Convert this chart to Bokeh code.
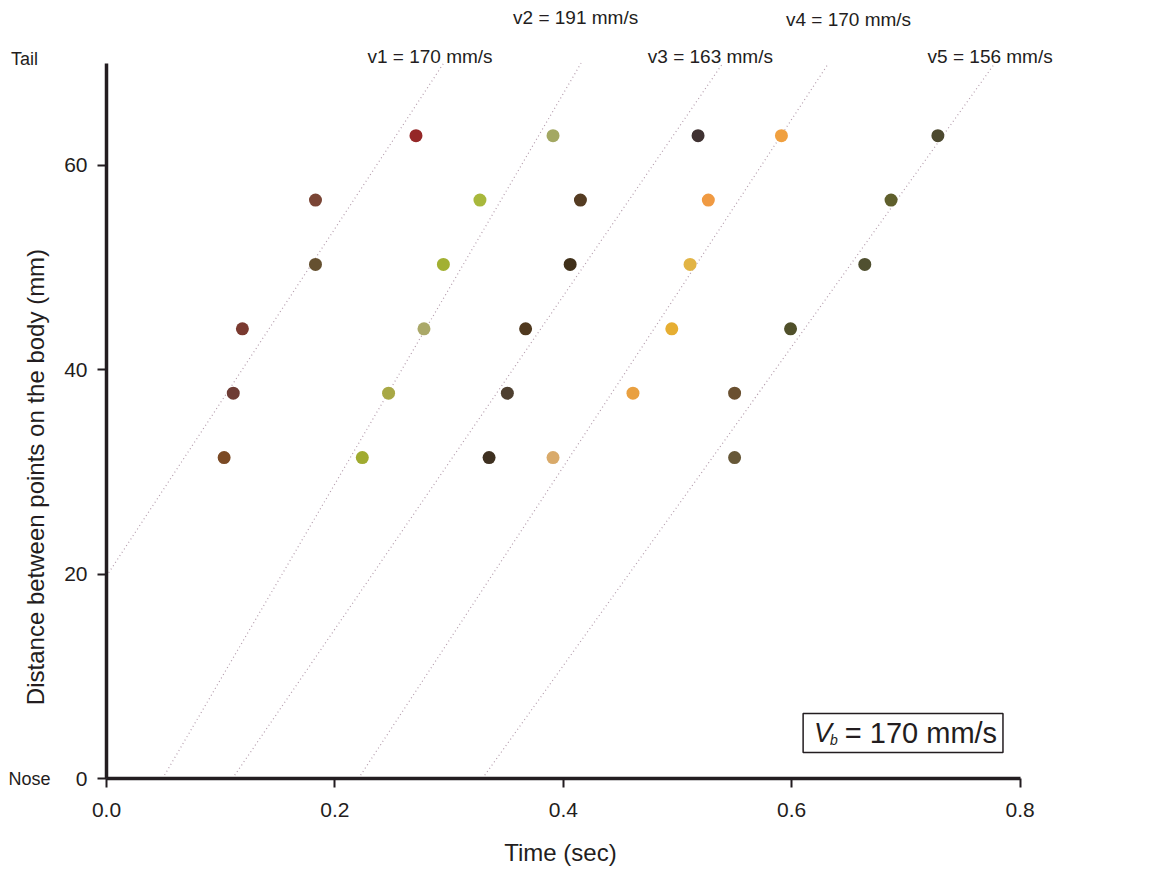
import math
from bokeh.plotting import figure
from bokeh.models import Label, BoxAnnotation, FixedTicker, Range1d, PrintfTickFormatter, ColumnDataSource
from bokeh.embed import file_html
from bokeh.resources import INLINE

# ---- data ----
levels = [31.4, 37.7, 44.0, 50.3, 56.6, 62.9]          # mm, points on the body

t_wave1 = [0.103, 0.111, 0.119, 0.183, 0.183, 0.271]   # s
t_wave2 = [0.224, 0.247, 0.278, 0.295, 0.327, 0.391]
t_wave3 = [0.335, 0.351, 0.367, 0.406, 0.415, 0.518]
t_wave4 = [0.391, 0.461, 0.495, 0.511, 0.527, 0.591]
t_wave5 = [0.550, 0.550, 0.599, 0.664, 0.687, 0.728]

col_wave1 = ["#7b4a25", "#6e3c35", "#7a3a30", "#655030", "#7a4535", "#952828"]
col_wave2 = ["#a0ab30", "#a8a845", "#aaa868", "#a2b032", "#a8b83c", "#a3a862"]
col_wave3 = ["#3e3020", "#4e4030", "#50391f", "#40301a", "#553c22", "#403232"]
col_wave4 = ["#d9aa6a", "#e9a040", "#e6ae32", "#e2b445", "#f09a42", "#f0a040"]
col_wave5 = ["#675838", "#6a5030", "#50502a", "#505030", "#5f5f2c", "#4d4a30"]

line_names = ["v1", "v2", "v3", "v4", "v5"]
line_speeds = [170, 191, 163, 170, 156]                 # mm/s
line_t0 = [-0.1165, 0.0491, 0.1103, 0.2206, 0.3292]      # s, time at nose (0 mm)
body_top = 70.0                                          # mm (tail)
body_speed_text = "= 170 mm/s"

x_ticks = [0.0, 0.2, 0.4, 0.6, 0.8]
y_ticks = [0, 20, 40, 60]

# label positions (left edge of speed labels)
lab_x = [0.2285, 0.356, 0.474, 0.595, 0.719]
lab_y = [70.6, 74.5, 70.6, 74.3, 70.6]

INK = "#231d20"
FONT = "Liberation Sans"

PX_X = 1142.0   # px per second
PX_Y = 10.22    # px per mm

p = figure(width=1153, height=870, output_backend="svg", toolbar_location=None,
           x_range=Range1d(-106 / PX_X, 1047 / PX_X),
           y_range=Range1d(-92 / PX_Y, 778 / PX_Y),
           min_border_left=0, min_border_right=0, min_border_top=0, min_border_bottom=0,
           background_fill_color="white", border_fill_color="white")
p.outline_line_color = None
p.grid.visible = False

# dotted wave lines
x0s, y0s, x1s, y1s = [], [], [], []
for v, t0 in zip(line_speeds, line_t0):
    ts = max(t0, 0.0)
    x0s.append(ts)
    y0s.append(v * (ts - t0))
    x1s.append(t0 + body_top / v)
    y1s.append(body_top)
p.segment(x0=x0s, y0=y0s, x1=x1s, y1=y1s, line_color="#b49cac", line_width=1.2, line_dash="1 3")

# dots
for ts, cs in [(t_wave1, col_wave1), (t_wave2, col_wave2), (t_wave3, col_wave3),
               (t_wave4, col_wave4), (t_wave5, col_wave5)]:
    src = ColumnDataSource(dict(x=ts, y=levels, c=cs))
    p.scatter("x", "y", source=src, size=13, fill_color="c", line_color=None)

# speed labels
for name, v, lx, ly in zip(line_names, line_speeds, lab_x, lab_y):
    p.add_layout(Label(x=lx, y=ly, text=f"{name} = {v} mm/s", text_font=FONT,
                       text_font_size="19px", text_color=INK,
                       text_align="left", text_baseline="middle"))

# Tail / Nose
p.add_layout(Label(x=-0.0718, y=70.4, text="Tail", text_font=FONT, text_font_size="18px",
                   text_color=INK, text_align="center", text_baseline="middle"))
p.add_layout(Label(x=-0.0674, y=0.0, text="Nose", text_font=FONT, text_font_size="18px",
                   text_color=INK, text_align="center", text_baseline="middle"))

# axis titles
p.add_layout(Label(x=-0.0625, y=29.5, text="Distance between points on the body (mm)",
                   angle=math.pi / 2, text_font=FONT, text_font_size="24px",
                   text_color=INK, text_align="center", text_baseline="middle"))
p.add_layout(Label(x=0.3975, y=-7.2, text="Time (sec)", text_font=FONT, text_font_size="24px",
                   text_color=INK, text_align="center", text_baseline="middle"))

# Vb box
p.add_layout(BoxAnnotation(left=0.610, right=0.785, bottom=2.55, top=6.36,
                           fill_color="white", fill_alpha=1.0, line_color=INK,
                           line_alpha=1.0, line_width=1.5))
p.add_layout(Label(x=0.6195, y=4.45, text="V", text_font=FONT, text_font_size="27px",
                   text_font_style="italic", text_color=INK, text_align="left", text_baseline="middle"))
p.add_layout(Label(x=0.6335, y=3.75, text="b", text_font=FONT, text_font_size="14px",
                   text_font_style="italic", text_color=INK, text_align="left", text_baseline="middle"))
p.add_layout(Label(x=0.6465, y=4.45, text=body_speed_text, text_font=FONT, text_font_size="29px",
                   text_color=INK, text_align="left", text_baseline="middle"))

# axes
for ax in (p.xaxis[0], p.yaxis[0]):
    ax.axis_line_width = 3.5
    ax.axis_line_color = INK
    ax.major_tick_line_color = INK
    ax.major_tick_line_width = 2
    ax.major_tick_in = 0
    ax.major_tick_out = 9
    ax.minor_tick_line_color = None
    ax.major_label_text_font = FONT
    ax.major_label_text_font_size = "21px"
    ax.major_label_text_color = INK

p.xaxis.ticker = FixedTicker(ticks=x_ticks)
p.xaxis.formatter = PrintfTickFormatter(format="%.1f")
p.xaxis.bounds = (0, 0.8)
p.xaxis.fixed_location = 0
p.xaxis.major_label_standoff = 15

p.yaxis.ticker = FixedTicker(ticks=y_ticks)
p.yaxis.formatter = PrintfTickFormatter(format="%d")
p.yaxis.bounds = (0, 70)
p.yaxis.fixed_location = 0
p.yaxis.major_label_standoff = 10

open("out.html", "w").write(file_html(p, INLINE))
